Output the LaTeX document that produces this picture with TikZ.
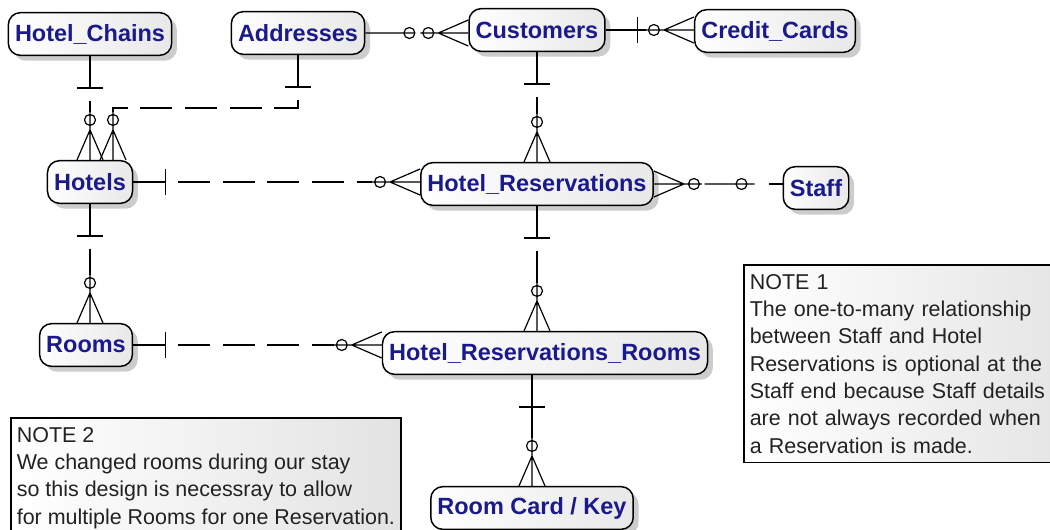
\documentclass[tikz,border=0pt]{standalone}
\usepackage{fontspec}
\setmainfont{Liberation Sans}
\usepackage{tikz}
\usetikzlibrary{calc, shadows, positioning}
\definecolor{entitytext}{HTML}{1A1A8C}
\definecolor{notetext}{HTML}{222222}
\tikzstyle{entity} = [rectangle, rounded corners=9pt, draw=black, line width=1.1pt, left color=white, right color=gray!18, drop shadow={shadow xshift=4pt, shadow yshift=-4pt, fill=black!40}, text=entitytext, font=\fontsize{17.6}{20}\selectfont\bfseries, inner xsep=5pt, inner ysep=2pt, minimum height=32pt]
\tikzstyle{note} = [rectangle, draw=black, line width=1.2pt, left color=white, right color=gray!22, text=notetext, font=\fontsize{16.1}{20.5}\selectfont, align=left, anchor=north west, inner xsep=4.5pt, inner ysep=7pt]
\tikzstyle{middle} = [dash pattern=on 24pt off 9.5pt, dash phase=24pt]
\tikzset{
    pics/onebar/.style={code={\draw (0,0) -- (32,0) (32,-13) -- (32,13);}},
    pics/zeromany/.style={code={\draw (0,-13) -- (30,0) -- (0,13) (0,0) -- (48,0) (40,0) circle[radius=5.5];}},
    pics/zeroone/.style={code={\draw (0,0) -- (50,0) (44,0) circle[radius=5.5];}},
}

\begin{document}
\begin{tikzpicture}[x=0.75pt, y=-0.75pt, line width=0.9pt]

    \useasboundingbox (0,0) rectangle (1050,529);
    \clip (0,0) rectangle (1050,529);

    % Entities
    \node (chains) [entity] at (90,34) {Hotel\_Chains};
    \node (addr) [entity] at (298,33) {Addresses};
    \node (cust) [entity] at (537,30) {Customers};
    \node (cards) [entity] at (775,31) {Credit\_Cards};
    \node (hotels) [entity] at (90,182) {Hotels};
    \node (hres) [entity] at (537,184) {Hotel\_Reservations};
    \node (staff) [entity] at (816,188) {Staff};
    \node (rooms) [entity] at (86,345) {Rooms};
    \node (hrr) [entity] at (545,353) {Hotel\_Reservations\_Rooms};
    \node (key) [entity] at (532,508) {Room Card / Key};

    % Notes
    \node (note1) [note, text width=250pt] at (743,264) {NOTE 1\\The one-to-many relationship\\between Staff and Hotel\\Reservations is optional at the\\Staff end because Staff details\\are not always recorded when\\a Reservation is made.};
    \node (note2) [note] at (10,417) {NOTE 2\\We changed rooms during our stay\\so this design is necessray to allow\\for multiple Rooms for one Reservation.};

    % Hotel_Chains - Hotels
    \path (chains.south) pic[rotate=-90] {onebar};
    \path (hotels.north) pic[rotate=90] {zeromany};
    \draw[middle] ($(chains.south)+(0,32)$) -- ($(hotels.north)+(0,-48)$);

    % Addresses - Hotels
    \coordinate (hotelsB) at ($(hotels.north)+(23,0)$);
    \path (addr.south) pic[rotate=-90] {onebar};
    \path (hotelsB) pic[rotate=90] {zeromany};
    \draw[middle] ($(addr.south)+(0,32)$) -- ++(0,21) -| ($(hotelsB)+(0,-48)$);

    % Addresses - Customers
    \path (addr.east) pic {zeroone};
    \path (cust.west |- addr.east) pic[rotate=180] {zeromany};

    % Customers - Credit_Cards
    \path (cust.east) pic {onebar};
    \path (cards.west |- cust.east) pic[rotate=180] {zeromany};
    \draw ($(cust.east)+(32,0)$) -- ($(cards.west |- cust.east)+(-48,0)$);

    % Customers - Hotel_Reservations
    \path (cust.south) pic[rotate=-90] {onebar};
    \path (hres.north) pic[rotate=90] {zeromany};
    \draw[middle] ($(cust.south)+(0,32)$) -- ($(hres.north)+(0,-48)$);

    % Hotels - Hotel_Reservations
    \path (hotels.east) pic {onebar};
    \path (hres.west |- hotels.east) pic[rotate=180] {zeromany};
    \draw[middle] ($(hotels.east)+(32,0)$) -- ($(hres.west |- hotels.east)+(-48,0)$);

    % Hotel_Reservations - Staff
    \coordinate (staffin) at (staff.west |- hres.east);
    \path (hres.east) pic {zeromany};
    \draw ($(staffin)+(-78,0)$) -- ($(staffin)+(-28,0)$) ($(staffin)+(-41,0)$) circle[radius=5.5];
    \draw (staffin) -- ++(-14,0);

    % Hotels - Rooms
    \path (hotels.south) pic[rotate=-90] {onebar};
    \path (hotels.south |- rooms.north) pic[rotate=90] {zeromany};
    \draw[middle] ($(hotels.south)+(0,32)$) -- ($(hotels.south |- rooms.north)+(0,-48)$);

    % Hotel_Reservations - Hotel_Reservations_Rooms
    \path (hres.south) pic[rotate=-90] {onebar};
    \path (hres.south |- hrr.north) pic[rotate=90] {zeromany};
    \draw[middle] ($(hres.south)+(0,32)$) -- ($(hres.south |- hrr.north)+(0,-48)$);

    % Rooms - Hotel_Reservations_Rooms
    \path (rooms.east) pic {onebar};
    \path (hrr.west |- rooms.east) pic[rotate=180] {zeromany};
    \draw[middle] ($(rooms.east)+(32,0)$) -- ($(hrr.west |- rooms.east)+(-48,0)$);

    % Hotel_Reservations_Rooms - Room Card / Key
    \path (key.north |- hrr.south) pic[rotate=-90] {onebar};
    \path (key.north) pic[rotate=90] {zeromany};
    \draw ($(key.north |- hrr.south)+(0,32)$) -- ($(key.north)+(0,-48)$);

\end{tikzpicture}
\end{document}
